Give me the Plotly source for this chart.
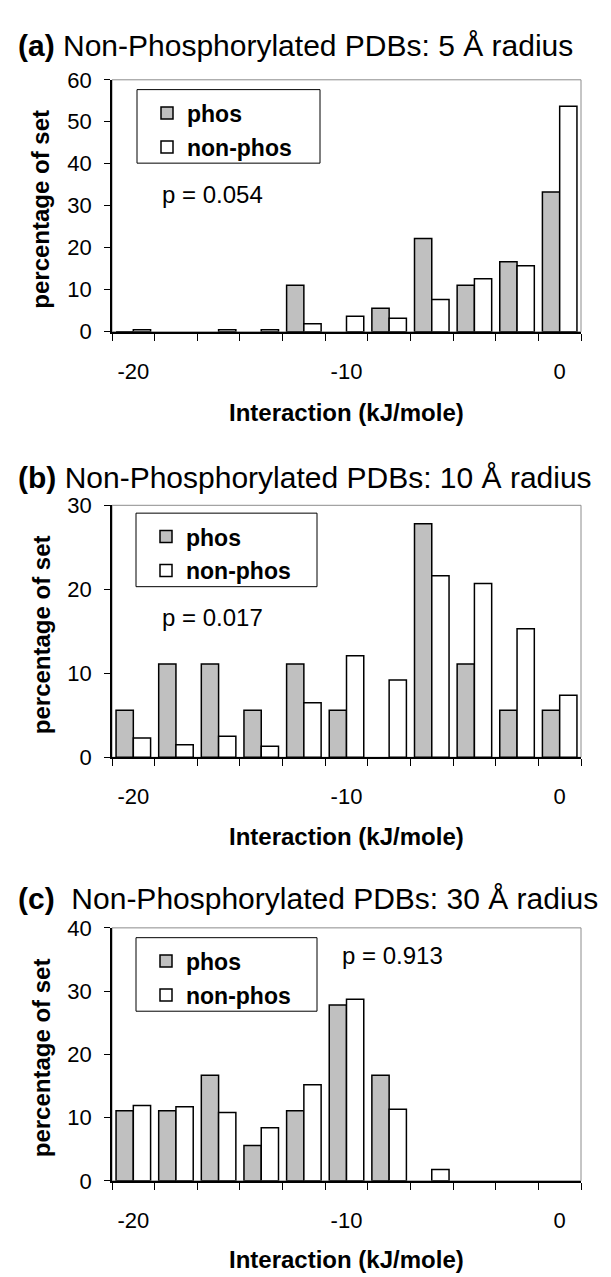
import plotly.graph_objects as go

W, H = 611, 1277

# ---- data ----
bins = [-20, -18, -16, -14, -12, -10, -8, -6, -4, -2, 0]
phos_a = [0, 0, 0, 0, 11.1, 0, 5.6, 22.2, 11.1, 16.7, 33.3]
nonphos_a = [0.5, 0, 0.5, 0.5, 1.9, 3.7, 3.2, 7.7, 12.6, 15.7, 53.7]
phos_b = [5.6, 11.1, 11.1, 5.6, 11.1, 5.6, 0, 27.8, 11.1, 5.6, 5.6]
nonphos_b = [2.3, 1.5, 2.5, 1.3, 6.5, 12.1, 9.2, 21.6, 20.7, 15.3, 7.4]
phos_c = [11.1, 11.1, 16.7, 5.6, 11.1, 27.8, 16.7, 0, 0, 0, 0]
nonphos_c = [11.9, 11.7, 10.8, 8.4, 15.2, 28.7, 11.3, 1.8, 0, 0, 0]
x_ticks = [-20, -10, 0]
x_ticktext = ["-20", "-10", "0"]
titles = ["<b>(a)</b> Non-Phosphorylated PDBs: 5 Å radius",
          "<b>(b)</b> Non-Phosphorylated PDBs: 10 Å radius",
          "<b>(c)</b>\u00a0 Non-Phosphorylated PDBs: 30 Å radius"]
p_texts = ["p = 0.054", "p = 0.017", "p = 0.913"]
y_max = [60, 30, 40]
series_names = ["phos", "non-phos"]

FONT = "Liberation Sans, Arial, sans-serif"

def px(x):
    return x / W

def py(y):
    return 1 - y / H

def outline(vals):
    # no outline on empty bins (first kept so the legend swatch keeps its border)
    return [1.5 if (v > 0 or k == 0) else 0 for k, v in enumerate(vals)]

# ---- layout geometry (pixels) ----
x_left, x_right = 104, 573
panels = [(61, 318), (495, 752), (926, 1184)]
legend_boxes = [(129, 71, 312, 146), (128, 503, 309, 578), (128, 936, 309, 1011)]
title_y = [26, 467, 896]
p_pos = [(152, 178), (152, 609), (332, 954)]
xtitle_y = [400, 833, 1264]

fig = go.Figure()
data = [(phos_a, nonphos_a), (phos_b, nonphos_b), (phos_c, nonphos_c)]
for i, (ph, nph) in enumerate(data):
    sfx = "" if i == 0 else str(i + 1)
    leg = "legend" + sfx
    fig.add_trace(go.Bar(x=bins, y=ph, name=series_names[0],
                         marker=dict(color="#c0c0c0",
                                     line=dict(color="black", width=outline(ph))),
                         xaxis="x" + sfx, yaxis="y" + sfx, legend=leg,
                         legendgroup="p" + str(i)))
    fig.add_trace(go.Bar(x=bins, y=nph, name=series_names[1],
                         marker=dict(color="white",
                                     line=dict(color="black", width=outline(nph))),
                         xaxis="x" + sfx, yaxis="y" + sfx, legend=leg,
                         legendgroup="n" + str(i)))

layout = dict(
    width=W, height=H,
    margin=dict(l=0, r=0, t=0, b=0),
    paper_bgcolor="white", plot_bgcolor="white",
    barmode="group", bargap=0.19, bargroupgap=0,
    font=dict(family=FONT, color="black"),
    showlegend=True,
)

annotations = []
shapes = []
for i, (top, bot) in enumerate(panels):
    sfx = "" if i == 0 else str(i + 1)
    layout["xaxis" + sfx] = dict(
        domain=[px(x_left), px(x_right)], anchor="y" + sfx,
        range=[-21, 1], tickvals=x_ticks, ticktext=x_ticktext,
        ticks="outside", ticklen=7, tickcolor="rgba(0,0,0,0)",
        ticklabelstandoff=12,
        minor=dict(tick0=-21, dtick=2, ticks="outside", ticklen=7,
                   tickcolor="black", tickwidth=1, showgrid=False),
        showline=True, linecolor="black", linewidth=1.5,
        showgrid=False, zeroline=False,
        tickfont=dict(size=22, family=FONT, color="black"),
        fixedrange=True,
    )
    layout["yaxis" + sfx] = dict(
        domain=[py(bot), py(top)], anchor="x" + sfx,
        range=[0, y_max[i]], dtick=10,
        ticks="outside", ticklen=6, tickcolor="black", tickwidth=1,
        ticklabelstandoff=8,
        showline=True, linecolor="black", linewidth=1.5,
        showgrid=False, zeroline=False,
        tickfont=dict(size=22, family=FONT, color="black"),
        fixedrange=True,
    )
    # gray plot frame (top / right)
    shapes.append(dict(type="rect", xref="x" + sfx + " domain", yref="y" + sfx + " domain",
                       x0=0, x1=1, y0=0, y1=1, line=dict(color="#8c8c8c", width=1),
                       layer="below"))
    # legend box
    lx0, ly0, lx1, ly1 = legend_boxes[i]
    shapes.append(dict(type="rect", xref="paper", yref="paper",
                       x0=px(lx0), x1=px(lx1), y0=py(ly1), y1=py(ly0),
                       line=dict(color="black", width=1), fillcolor="white", layer="below"))
    layout["legend" + sfx] = dict(
        x=px(lx0 + 10), y=py(ly0 + 2), xanchor="left", yanchor="top",
        bgcolor="rgba(0,0,0,0)", borderwidth=0,
        font=dict(size=23, family=FONT, color="black", weight="bold"),
        traceorder="grouped", tracegroupgap=1, itemwidth=30,
    )
    # panel title
    annotations.append(dict(text=titles[i], xref="paper", yref="paper",
                            x=px(8), y=py(title_y[i]), xanchor="left", yanchor="middle",
                            showarrow=False, font=dict(size=30, family=FONT, color="black")))
    # p value
    annotations.append(dict(text=p_texts[i], xref="paper", yref="paper",
                            x=px(p_pos[i][0]), y=py(p_pos[i][1]), xanchor="left", yanchor="middle",
                            showarrow=False, font=dict(size=24, family=FONT, color="black")))
    # y axis title
    annotations.append(dict(text="<b>percentage of set</b>", xref="paper", yref="paper",
                            x=px(33), y=py((top + bot) / 2 + 4), xanchor="center", yanchor="middle",
                            textangle=-90, showarrow=False,
                            font=dict(size=24, family=FONT, color="black")))
    # x axis title
    annotations.append(dict(text="<b>Interaction (kJ/mole)</b>", xref="paper", yref="paper",
                            x=px((x_left + x_right) / 2), y=py(xtitle_y[i]),
                            xanchor="center", yanchor="middle", showarrow=False,
                            font=dict(size=24, family=FONT, color="black")))

layout["annotations"] = annotations
layout["shapes"] = shapes
fig.update_layout(**layout)
fig.write_html("out.html")
